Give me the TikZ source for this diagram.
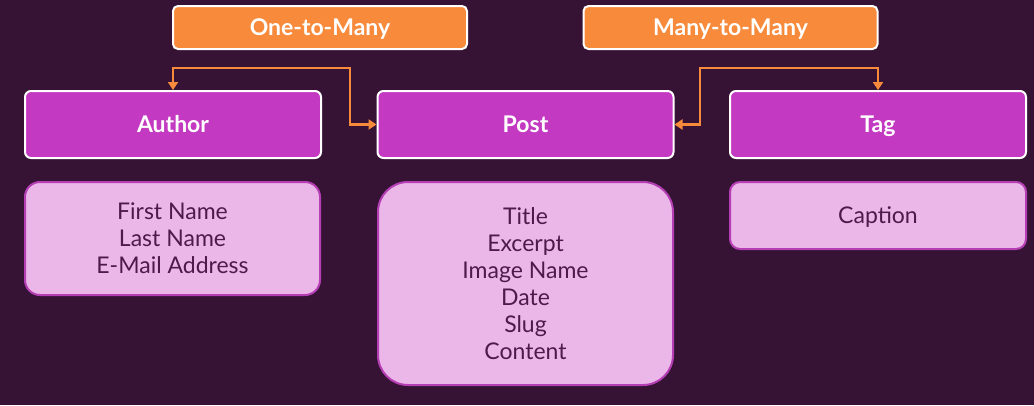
\documentclass[tikz,border=0pt]{standalone}
\usepackage{fontspec}
\setmainfont{Lato}
\usetikzlibrary{arrows.meta}
\definecolor{bgc}{HTML}{361335}
\definecolor{mag}{HTML}{C339C1}
\definecolor{org}{HTML}{F78A3B}
\definecolor{pinkf}{HTML}{EBB7E8}
\definecolor{pinkd}{HTML}{B53EB5}
\definecolor{txtc}{HTML}{4E1A4B}
\begin{document}
\begin{tikzpicture}[x=1pt,y=-1pt,
  relbox/.style={draw=white, line width=2pt, fill=org, rounded corners=5pt, minimum width=294pt, minimum height=43pt, text=white, font=\fontsize{23}{27}\selectfont\bfseries, inner sep=0pt, text height=16.5pt, text depth=0pt},
  entbox/.style={draw=white, line width=2pt, fill=mag, rounded corners=6pt, minimum width=296pt, minimum height=67pt, text=white, font=\fontsize{23}{27}\selectfont\bfseries, inner sep=0pt, text height=16.5pt, text depth=0pt},
  attrbox/.style={draw=pinkd, line width=2pt, fill=pinkf, minimum width=295pt, text=txtc, font=\fontsize{23}{27}\selectfont, align=center, inner sep=0pt},
  conn/.style={draw=org, line width=2.5pt, {Triangle[length=8pt,width=10pt]}-{Triangle[length=8pt,width=10pt]}}
]
\fill[bgc] (0,0) rectangle (1034,405);
\useasboundingbox (0,0) rectangle (1034,405);

\node[relbox] (one) at (320,27.5) {One-to-Many};
\node[relbox] (many) at (730.5,27.5) {Many-to-Many};

\node[entbox] (author) at (173,124.5) {Author};
\node[entbox] (post) at (525.5,124.5) {Post};
\node[entbox] (tag) at (878,124.5) {Tag};

\node[attrbox, rounded corners=15pt, minimum height=113pt] (authora) at (172.5,238.5) {First Name\\Last Name\\E-Mail Address};
\node[attrbox, rounded corners=30pt, minimum height=203pt] (posta) at (525.5,283.5) {Title\\Excerpt\\Image Name\\Date\\Slug\\Content};
\node[attrbox, rounded corners=10pt, minimum height=67pt, minimum width=296pt, text height=16.5pt, text depth=0pt] (taga) at (878,215.5) {Caption};

\coordinate (c1) at (350,68);
\coordinate (c2) at (700,68);
\draw[conn] (author.north) |- (c1) |- (post.west);
\draw[conn] (post.east) -| (c2) -| (tag.north);
\end{tikzpicture}
\end{document}
